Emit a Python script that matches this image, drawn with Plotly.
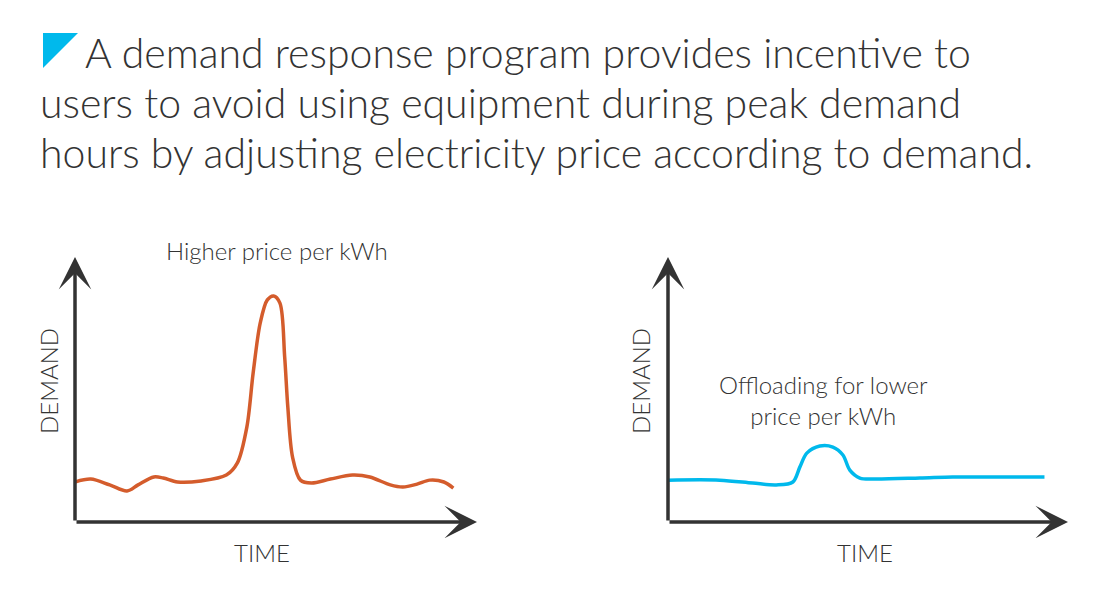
import plotly.graph_objects as go

# ---- data ----
left_hours = [0, 1, 2.2, 3.3, 4, 5, 5.6, 6.5, 8, 9.6, 10.3, 10.9, 11.3, 11.75, 12.2, 12.6,
              13, 13.3, 13.5, 13.8, 14.3, 15, 16.2, 17.6, 18.7, 20, 20.8, 21.7, 22.5, 23.4, 24]
left_demand = [15.1, 16.2, 14.0, 11.7, 14.0, 17.0, 16.6, 15.1, 15.5, 17.7, 22.3, 35.8, 56.2, 75.1,
               83.8, 85.3, 82.6, 62.3, 43.4, 24.5, 15.8, 14.7, 16.2, 17.7, 17.0, 14.0, 13.2, 14.3,
               15.8, 15.1, 12.8]

right_hours = [0, 3.3, 5.4, 6.9, 7.96, 8.41, 8.85, 9.68, 10.51, 11.15, 11.59, 12.23, 13.06,
               16.05, 18.15, 20.32, 24]
right_demand = [15.8, 15.8, 14.7, 14.0, 15.1, 20.8, 26.0, 28.7, 28.3, 25.3, 19.6, 16.6, 16.2,
                16.6, 17.0, 17.0, 17.0]

title_lines = [
    "A demand response program provides incentive to",
    "users to avoid using equipment during peak demand",
    "hours by adjusting electricity price according to demand.",
]
left_note = "Higher price per kWh"
right_note = "Offloading for lower<br>price per kWh"
x_label = "TIME"
y_label = "DEMAND"

X_MAX = 25.5
Y_MAX = 100

ORANGE = "#D45C2C"
CYAN = "#00B9EC"
DARK = "#333333"
FONT = "Lato"

W, H = 1100, 600
OFF = 8  # page body margin offset
def px(x):
    return (x - OFF) / W
def py(y):
    return 1 - (y - OFF) / H

fig = go.Figure()

fig.add_trace(go.Scatter(x=left_hours, y=left_demand, mode="lines",
                         line=dict(color=ORANGE, width=3.5, shape="spline", smoothing=0.9),
                         xaxis="x", yaxis="y", hoverinfo="skip", showlegend=False))
fig.add_trace(go.Scatter(x=right_hours, y=right_demand, mode="lines",
                         line=dict(color=CYAN, width=3.5, shape="spline", smoothing=0.9),
                         xaxis="x2", yaxis="y2", hoverinfo="skip", showlegend=False))

ax_common = dict(showgrid=False, zeroline=False, showticklabels=False, ticks="", showline=False)
fig.update_layout(
    width=W, height=H,
    margin=dict(l=0, r=0, t=0, b=0),
    paper_bgcolor="white", plot_bgcolor="white",
    xaxis=dict(domain=[px(75), px(477)], range=[0, X_MAX], **ax_common),
    yaxis=dict(domain=[py(522), py(257)], range=[0, Y_MAX], **ax_common),
    xaxis2=dict(domain=[px(668), px(1068)], range=[0, X_MAX], anchor="y2", **ax_common),
    yaxis2=dict(domain=[py(522), py(257)], range=[0, Y_MAX], anchor="x2", **ax_common),
    font=dict(family=FONT, color=DARK),
)

annotations = []
# axis arrows
for xr, yr in (("x", "y"), ("x2", "y2")):
    annotations.append(dict(x=0, y=Y_MAX, ax=0, ay=0, xref=xr, yref=yr, axref=xr, ayref=yr,
                            text="", showarrow=True, arrowhead=3, arrowsize=1.55,
                            arrowwidth=3.5, arrowcolor=DARK, standoff=0))
    annotations.append(dict(x=X_MAX, y=0, ax=0, ay=0, xref=xr, yref=yr, axref=xr, ayref=yr,
                            text="", showarrow=True, arrowhead=3, arrowsize=1.55,
                            arrowwidth=3.5, arrowcolor=DARK, standoff=0))

# title lines
title_pos = [(83, 52), (38, 102), (38, 152)]
for line, (tx, ty) in zip(title_lines, title_pos):
    annotations.append(dict(x=px(tx), y=py(ty), xref="paper", yref="paper", text=line,
                            showarrow=False, xanchor="left", yanchor="middle",
                            font=dict(size=41, family=FONT, color=DARK, weight=300)))

# axis labels
for cx in (262, 865):
    annotations.append(dict(x=px(cx), y=py(552), xref="paper", yref="paper", text=x_label,
                            showarrow=False, xanchor="center", yanchor="middle",
                            font=dict(size=24, family=FONT, color=DARK, weight=300)))
for cx in (48, 640):
    annotations.append(dict(x=px(cx), y=py(381), xref="paper", yref="paper", text=y_label,
                            showarrow=False, xanchor="center", yanchor="middle", textangle=-90,
                            font=dict(size=24, family=FONT, color=DARK, weight=300)))

# notes
annotations.append(dict(x=px(277), y=py(250), xref="paper", yref="paper", text=left_note,
                        showarrow=False, xanchor="center", yanchor="middle",
                        font=dict(size=24, family=FONT, color=DARK, weight=300)))
annotations.append(dict(x=px(823), y=py(400), xref="paper", yref="paper", text=right_note,
                        showarrow=False, xanchor="center", yanchor="middle", align="center",
                        font=dict(size=24, family=FONT, color=DARK, weight=300)))

fig.update_layout(annotations=annotations)

# decorative corner triangle
fig.add_shape(type="path", xref="paper", yref="paper",
              path=f"M {px(43)},{py(33)} L {px(78)},{py(33)} L {px(43)},{py(68)} Z",
              fillcolor=CYAN, line=dict(width=0))

fig.write_html("out.html")
